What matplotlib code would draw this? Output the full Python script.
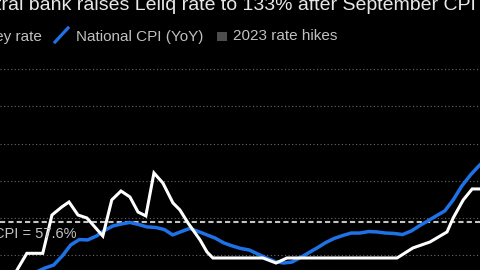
import matplotlib
matplotlib.use("Agg")
import matplotlib.pyplot as plt
from matplotlib.lines import Line2D
from matplotlib.patches import Rectangle
from matplotlib.transforms import IdentityTransform
import pandas as pd

plt.rcParams['font.family'] = ['Liberation Sans', 'DejaVu Sans']

# ---- data ----
title_text = "tral bank raises Leliq rate to 133% after September CPI"
legend_rate = "Key rate"
legend_cpi = "National CPI (YoY)"
legend_hikes = "2023 rate hikes"
ref_label = "CPI = 57.6%"
ref_value = 57.6

cpi_dates = pd.date_range("2018-05-01", "2022-11-01", freq="MS")
cpi_values = [29.5, 31.0, 33.1, 34.7, 39.6, 45.5, 48.4, 48.2, 50.3, 53.5, 55.7, 56.8,
              57.6, 56.5, 55.2, 54.9, 53.8, 50.9, 52.7, 54.4, 52.7, 50.9, 49.2, 46.6,
              45.0, 43.6, 42.8, 40.6, 38.5, 36.6, 35.8, 36.3, 38.8, 41.5, 43.9, 46.8,
              49.0, 50.6, 51.9, 51.9, 52.7, 52.5, 51.9, 51.7, 51.1, 53.0, 55.7, 58.4,
              61.1, 63.8, 69.7, 77.2, 83.1, 88.0, 92.4]

rate_dates = pd.to_datetime([
    "2018-03-04", "2018-04-27", "2018-06-23", "2018-07-26", "2018-08-30", "2018-09-25",
    "2018-10-27", "2018-11-28", "2019-01-24", "2019-02-25", "2019-03-30", "2019-05-01",
    "2019-05-30", "2019-06-27", "2019-07-26", "2019-08-27", "2019-10-02", "2019-10-27",
    "2019-11-25", "2020-01-07", "2020-02-01", "2020-02-22", "2020-08-19", "2020-10-05",
    "2020-11-13", "2021-12-12", "2022-02-07", "2022-04-09", "2022-06-09", "2022-07-01",
    "2022-08-06", "2022-09-07", "2022-10-31"])
rate_values = [27.25, 41.0, 41.0, 61.6, 65.9, 68.6,
               61.6, 60.0, 50.3, 69.7, 74.5, 71.3,
               63.2, 61.1, 84.2, 78.8, 68.1, 64.3,
               57.3, 48.2, 41.7, 38.5, 38.5, 35.8,
               38.5, 38.5, 43.9, 47.1, 52.5, 60.0,
               69.7, 75.6, 75.6]

grid_values = [40, 60, 80, 100, 120, 140]

# ---- figure ----
W, H = 480, 270
fig = plt.figure(figsize=(4.8, 2.7), dpi=100, facecolor="black")
ax = fig.add_axes([0, 0, 1, 215 / 270])
ax.set_facecolor("black")
for s in ax.spines.values():
    s.set_visible(False)

ax.set_xlim(pd.Timestamp("2018-01-21"), pd.Timestamp("2022-10-05"))
ax.set_ylim(32.04, 147.6)
ax.set_yticks(grid_values)
ax.set_xticks([])
ax.tick_params(left=False, labelleft=False, bottom=False, labelbottom=False)
ax.yaxis.grid(True, color="#6a6a6a", linestyle=(0, (1, 2.2)), linewidth=0.8)
ax.set_axisbelow(True)

ax.axhline(ref_value, color="#c4c4c4", linewidth=1.5, linestyle=(0, (2.5, 1.5)), zorder=2)

ax.plot(cpi_dates, cpi_values, color="#1f71e6", linewidth=2.5, zorder=3,
        solid_joinstyle="round")
ax.plot(rate_dates, rate_values, color="white", linewidth=2.2, zorder=4,
        solid_joinstyle="miter")

# reference label (pixel placement, origin bottom-left)
fig.text(-6 / W, (270 - 238) / H, ref_label, color="#c4c4c4", fontsize=10.5,
         ha="left", va="baseline")

# title
fig.text(476 / W, (270 - 9.5) / H, title_text, color="#e8e8e8", fontsize=14,
         ha="right", va="baseline")

# legend
ly = (270 - 40.5) / H
fig.text(42 / W, ly, legend_rate, color="#c0c0c0", fontsize=11, ha="right", va="baseline")
fig.add_artist(Line2D([55, 68], [270 - 42, 270 - 28], color="#1f71e6", linewidth=2.3,
                      transform=IdentityTransform()))
fig.text(76 / W, ly, legend_cpi, color="#c0c0c0", fontsize=11, ha="left", va="baseline")
fig.add_artist(Rectangle((217, 270 - 40.5), 10, 9, facecolor="#4d4d4d", edgecolor="none",
                         transform=IdentityTransform()))
fig.text(233 / W, ly, legend_hikes, color="#c0c0c0", fontsize=11, ha="left", va="baseline")

fig.savefig("out.png", dpi=100, facecolor="black")
